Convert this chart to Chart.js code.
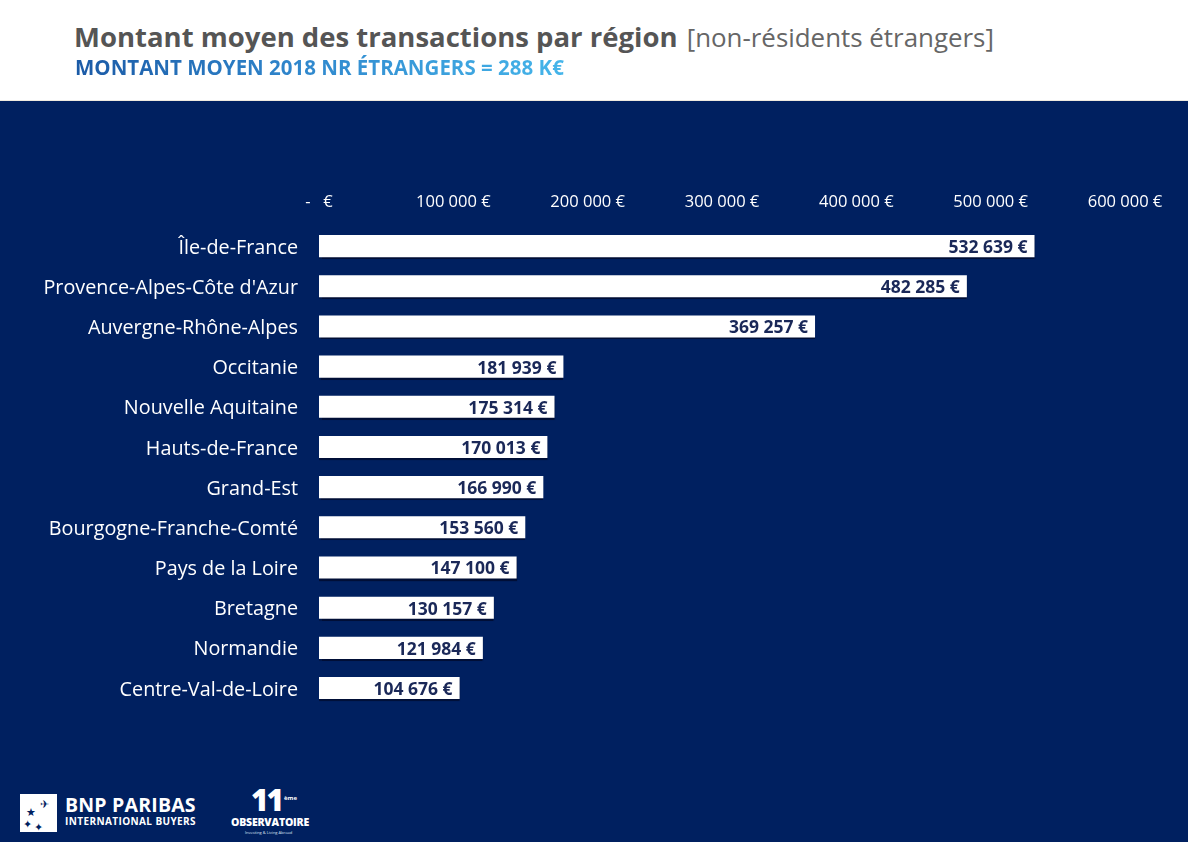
<!DOCTYPE html>
<html lang="fr">
<head>
<meta charset="utf-8">
<script src="https://cdn.jsdelivr.net/npm/chart.js@4/dist/chart.umd.min.js"></script>
<style>
  html, body { margin: 0; padding: 0; }
  body { width: 1188px; height: 842px; background: #002060; position: relative; overflow: hidden; font-family: "Open Sans", "Noto Sans", sans-serif; }
  #header { position: absolute; left: 0; top: 0; width: 1188px; height: 101px; background: #ffffff; border-bottom: 1px solid #efeadf; box-sizing: border-box; }
  #title { position: absolute; left: 74px; top: 18px; font-size: 27.5px; white-space: nowrap; color: #555555; font-weight: 700; }
  #title span { font-weight: 400; color: #666666; font-size: 25.9px; margin-left: 2px; }
  #subtitle { position: absolute; left: 75px; top: 53px; font-size: 20.5px; font-weight: 700; white-space: nowrap;
    background: linear-gradient(90deg, #1b5aa6 0%, #2f86cc 45%, #45b5ea 100%);
    -webkit-background-clip: text; background-clip: text; color: transparent; }
  #chartWrap { position: absolute; left: 0; top: 101px; width: 1188px; height: 640px; }
  .logo1 { position: absolute; left: 20px; top: 794px; width: 37px; height: 38px; background: #ffffff; color: #002060; font-size: 11px; line-height: 11px; }
  .logo1 i { position: absolute; font-style: normal; }
  .bnp { position: absolute; left: 65px; top: 794px; color: #ffffff; font-weight: 700; font-size: 19.5px; line-height: 22px; white-space: nowrap; letter-spacing: 0.2px; }
  .bnp2 { position: absolute; left: 65px; top: 816px; color: #ffffff; font-weight: 700; font-size: 10px; line-height: 11px; white-space: nowrap; letter-spacing: 0.4px; }
  .obs11 { position: absolute; left: 251px; top: 784px; color: #ffffff; font-weight: 800; font-size: 30px; line-height: 32px; letter-spacing: -2px; }
  .obsSup { position: absolute; left: 284px; top: 794px; color: #ffffff; font-size: 6px; font-weight: 700; }
  .obs { position: absolute; left: 231px; top: 816px; color: #ffffff; font-weight: 800; font-size: 10.5px; line-height: 12px; letter-spacing: -0.2px; white-space: nowrap; }
  .obs2 { position: absolute; left: 245px; top: 830px; color: #dfe6f5; font-size: 4px; line-height: 5px; white-space: nowrap; }
</style>
</head>
<body>
<div id="header">
  <div id="title">Montant moyen des transactions par région <span>[non-résidents étrangers]</span></div>
  <div id="subtitle">MONTANT MOYEN 2018 NR ÉTRANGERS = 288 K€</div>
</div>
<div id="chartWrap"><canvas id="c" width="1188" height="640"></canvas></div>

<div class="logo1"><i style="left:20px;top:4px">✈</i><i style="left:6px;top:12px">★</i><i style="left:3px;top:24px">✦</i><i style="left:14px;top:27px">✦</i></div>
<div class="bnp">BNP PARIBAS</div>
<div class="bnp2">INTERNATIONAL BUYERS</div>
<div class="obs11">11</div>
<div class="obsSup">ème</div>
<div class="obs">OBSERVATOIRE</div>
<div class="obs2">Investing &amp; Living Abroad</div>

<script>
// ---- Data ----
const regions = [
  "Île-de-France",
  "Provence-Alpes-Côte d'Azur",
  "Auvergne-Rhône-Alpes",
  "Occitanie",
  "Nouvelle Aquitaine",
  "Hauts-de-France",
  "Grand-Est",
  "Bourgogne-Franche-Comté",
  "Pays de la Loire",
  "Bretagne",
  "Normandie",
  "Centre-Val-de-Loire"
];
const montants = [532639, 482285, 369257, 181939, 175314, 170013, 166990, 153560, 147100, 130157, 121984, 104676];
const tickValues = [0, 100000, 200000, 300000, 400000, 500000, 600000];
const tickLabels = ["-   €", "100 000 €", "200 000 €", "300 000 €", "400 000 €", "500 000 €", "600 000 €"];

function fmtEuro(v) {
  return String(v).replace(/\B(?=(\d{3})+(?!\d))/g, " ") + " €";
}

const FONT = '"Open Sans", "Noto Sans", sans-serif';

const valueLabels = {
  id: 'valueLabels',
  afterDatasetsDraw(chart) {
    const ctx = chart.ctx;
    const meta = chart.getDatasetMeta(0);
    ctx.save();
    ctx.font = 'bold 17.5px ' + FONT;
    ctx.fillStyle = '#1a2858';
    ctx.textAlign = 'right';
    ctx.textBaseline = 'middle';
    meta.data.forEach((bar, i) => {
      ctx.fillText(fmtEuro(chart.data.datasets[0].data[i]), bar.x - 7, bar.y + 2);
    });
    ctx.restore();
  }
};

const barShadow = {
  id: 'barShadow',
  beforeDatasetsDraw(chart) {
    const ctx = chart.ctx;
    ctx.save();
    ctx.shadowColor = 'rgba(0,0,20,0.55)';
    ctx.shadowOffsetY = 2;
    ctx.shadowOffsetX = 0;
    ctx.shadowBlur = 1;
  },
  afterDatasetsDraw(chart) {
    chart.ctx.restore();
  }
};

new Chart(document.getElementById('c'), {
  type: 'bar',
  data: {
    labels: regions,
    datasets: [{
      data: montants,
      backgroundColor: '#ffffff',
      borderWidth: 0,
      barPercentage: 1,
      categoryPercentage: 0.55
    }]
  },
  options: {
    indexAxis: 'y',
    responsive: false,
    animation: false,
    devicePixelRatio: 1,
    layout: { padding: { left: 0, right: 63, top: 0, bottom: 31 } },
    plugins: { legend: { display: false }, tooltip: { enabled: false } },
    scales: {
      x: {
        position: 'top',
        min: 0,
        max: 600000,
        afterBuildTicks(scale) { scale.ticks = tickValues.map(v => ({ value: v })); },
        afterFit(scale) { scale.height = 125; },
        grid: { display: false, drawTicks: false },
        border: { display: false },
        ticks: {
          color: '#ffffff',
          font: { family: FONT, size: 16.5 },
          padding: 14,
          maxRotation: 0,
          autoSkip: false,
          callback: (v, i) => tickLabels[i]
        }
      },
      y: {
        afterFit(scale) { scale.width = 319; },
        grid: { display: false, drawTicks: false },
        border: { display: false },
        ticks: {
          color: '#ffffff',
          font: { family: FONT, size: 19.8 },
          padding: 21,
          labelOffset: 2,
          autoSkip: false
        }
      }
    }
  },
  plugins: [barShadow, valueLabels]
});
</script>
</body>
</html>
